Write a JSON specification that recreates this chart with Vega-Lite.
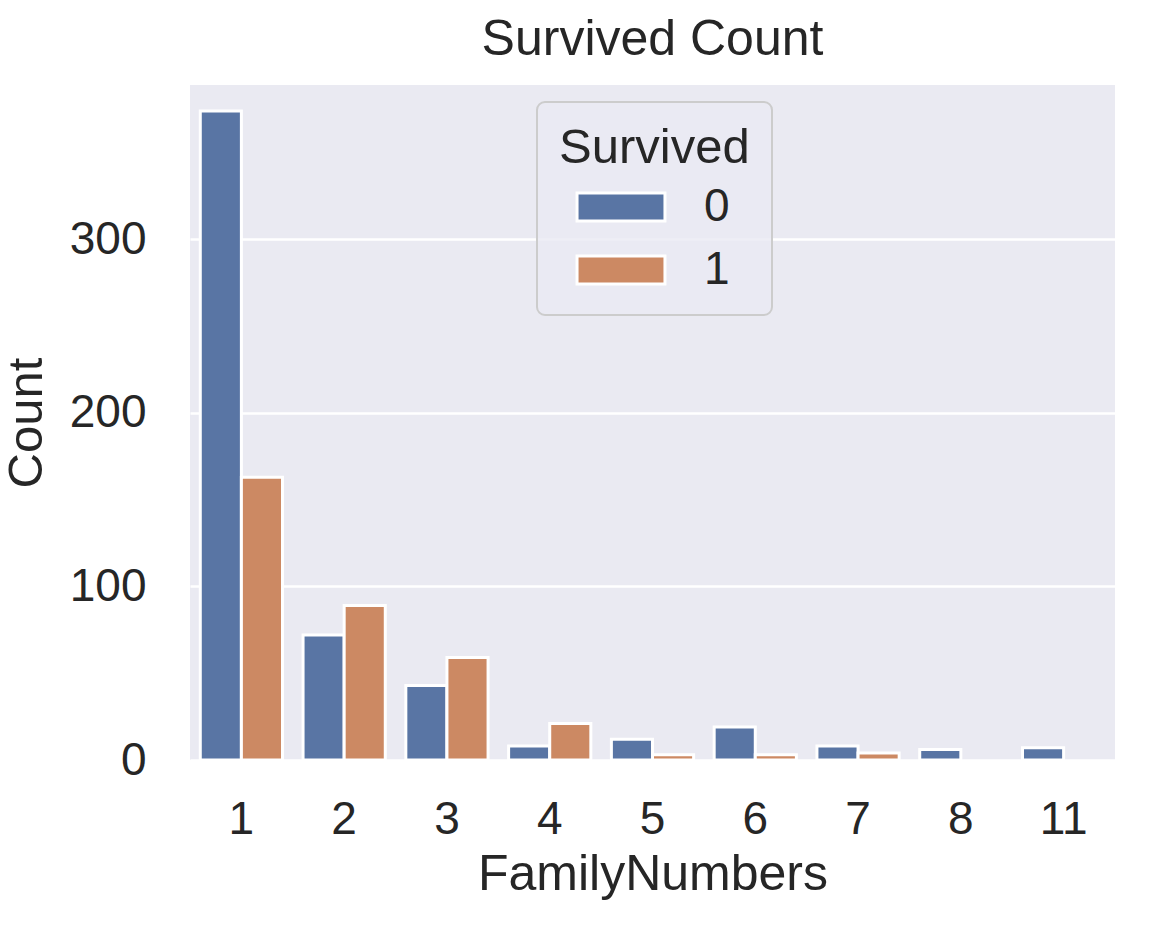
{
  "$schema": "https://vega.github.io/schema/vega-lite/v6.json",
  "autosize": {"type": "none"},
  "padding": {"left": 190, "top": 85, "right": 59, "bottom": 170},
  "width": 925,
  "height": 675,
  "background": "white",
  "title": {"text": "Survived Count", "fontSize": 50, "fontWeight": "normal", "color": "#262626", "font": "Liberation Sans", "offset": 20, "anchor": "middle"},
  "data": {
    "values": [
      {"FamilyNumbers": "1", "Survived": "0", "Count": 374},
      {"FamilyNumbers": "1", "Survived": "1", "Count": 163},
      {"FamilyNumbers": "2", "Survived": "0", "Count": 72},
      {"FamilyNumbers": "2", "Survived": "1", "Count": 89},
      {"FamilyNumbers": "3", "Survived": "0", "Count": 43},
      {"FamilyNumbers": "3", "Survived": "1", "Count": 59},
      {"FamilyNumbers": "4", "Survived": "0", "Count": 8},
      {"FamilyNumbers": "4", "Survived": "1", "Count": 21},
      {"FamilyNumbers": "5", "Survived": "0", "Count": 12},
      {"FamilyNumbers": "5", "Survived": "1", "Count": 3},
      {"FamilyNumbers": "6", "Survived": "0", "Count": 19},
      {"FamilyNumbers": "6", "Survived": "1", "Count": 3},
      {"FamilyNumbers": "7", "Survived": "0", "Count": 8},
      {"FamilyNumbers": "7", "Survived": "1", "Count": 4},
      {"FamilyNumbers": "8", "Survived": "0", "Count": 6},
      {"FamilyNumbers": "11", "Survived": "0", "Count": 7}
    ]
  },
  "mark": {"type": "bar", "stroke": "white", "strokeWidth": 3},
  "encoding": {
    "x": {
      "field": "FamilyNumbers", "type": "nominal",
      "sort": ["1", "2", "3", "4", "5", "6", "7", "8", "11"],
      "scale": {"paddingInner": 0.2, "paddingOuter": 0.1},
      "axis": {"labelAngle": 0, "ticks": false, "grid": false, "domain": false, "labelPadding": 37, "titlePadding": 7, "title": "FamilyNumbers", "titleFontSize": 50}
    },
    "xOffset": {
      "field": "Survived", "type": "nominal",
      "scale": {"domain": ["0", "1"], "paddingInner": 0, "paddingOuter": 0}
    },
    "y": {
      "field": "Count", "type": "quantitative",
      "scale": {"domain": [0, 389], "nice": false},
      "axis": {"values": [0, 100, 200, 300], "ticks": false, "domain": false, "grid": true, "gridColor": "white", "gridWidth": 2.5, "labelPadding": 44, "titlePadding": 18, "title": "Count", "titleFontSize": 49}
    },
    "color": {
      "field": "Survived", "type": "nominal",
      "scale": {"domain": ["0", "1"], "range": ["#5975a4", "#cc8963"]},
      "legend": {
        "orient": "none", "legendX": 347, "legendY": 17,
        "title": "Survived",
        "titleAnchor": "start",
        "titleLimit": 500,
        "titleFontSize": 49, "titleFontWeight": "normal", "titleColor": "#262626", "titleFont": "Liberation Sans",
        "titlePadding": 11,
        "labelFontSize": 46, "labelColor": "#262626", "labelFont": "Liberation Sans",
        "symbolType": "M-3.14,-1H3.14V1H-3.14Z",
        "symbolSize": 784,
        "symbolStrokeColor": "white", "symbolStrokeWidth": 3,
        "symbolOpacity": 1,
        "symbolOffset": 39,
        "labelOffset": 60,
        "rowPadding": 17,
        "padding": 22,
        "fillColor": "rgba(234,234,242,0.8)",
        "strokeColor": "#cccccc",
        "cornerRadius": 8
      }
    }
  },
  "config": {
    "font": "Liberation Sans",
    "view": {"fill": "#eaeaf2", "stroke": null},
    "legend": {"strokeWidth": 2},
    "axis": {"labelFontSize": 46, "titleFontSize": 48, "titleFontWeight": "normal", "labelColor": "#262626", "titleColor": "#262626", "labelFont": "Liberation Sans", "titleFont": "Liberation Sans"}
  }
}
